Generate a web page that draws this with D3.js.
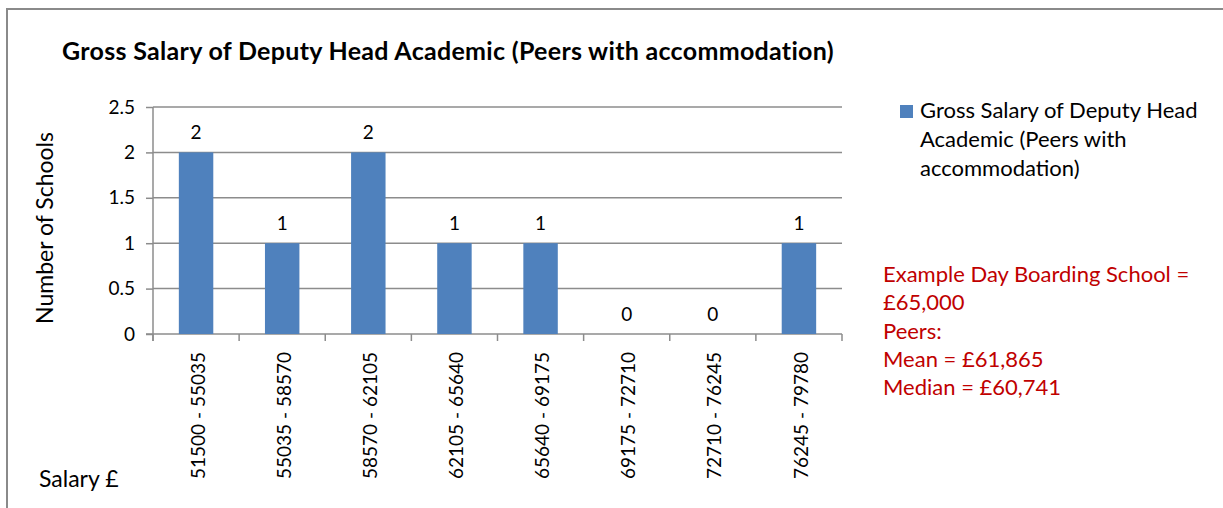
<!DOCTYPE html>
<html>
<head>
<meta charset="utf-8">
<script src="https://cdn.jsdelivr.net/npm/d3@7"></script>
<style>
  body { margin: 0; background: #fff; }
  text { font-family: Lato, "Open Sans", sans-serif; }
</style>
</head>
<body>
<svg id="chart"></svg>
<script>
// Chart data
const categories = ["51500 - 55035", "55035 - 58570", "58570 - 62105", "62105 - 65640",
                    "65640 - 69175", "69175 - 72710", "72710 - 76245", "76245 - 79780"]
const counts = [2, 1, 2, 1, 1, 0, 0, 1]
const yTicks = [0, 0.5, 1, 1.5, 2, 2.5]
const titleText = "Gross Salary of Deputy Head Academic (Peers with accommodation)"
const legendLines = ["Gross Salary of Deputy Head", "Academic (Peers with", "accommodation)"]
const noteLines = ["Example Day Boarding School =", "£65,000", "Peers:", "Mean = £61,865", "Median = £60,741"]

const widthSvg = 1223
const heightSvg = 508
const plot = {left: 153, right: 842, top: 107, bottom: 334}
const gridColor = "#8c8c8c"
const barColor = "#4f81bd"
const noteColor = "#c00000"

const svg = d3.select("#chart")
    .attr("width", widthSvg)
    .attr("height", heightSvg)

// Outer chart border (runs off the right and bottom edges)
svg.append("rect")
    .attr("x", 7).attr("y", 9)
    .attr("width", 1300).attr("height", 600)
    .attr("fill", "none")
    .attr("stroke", "#8a8a8a")
    .attr("stroke-width", 2)

// Title
svg.append("text")
    .attr("x", 448).attr("y", 60)
    .attr("text-anchor", "middle")
    .attr("font-size", "25px")
    .attr("font-weight", "bold")
    .attr("letter-spacing", "0.3px")
    .text(titleText)

//**** SCALES ****/
const xScale = d3.scaleBand()
    .domain(categories)
    .range([plot.left, plot.right])

const yScale = d3.scaleLinear()
    .domain([0, 2.5])
    .range([plot.bottom, plot.top])

// Horizontal gridlines
svg.append("g")
    .selectAll("line")
    .data(yTicks.filter(d => d > 0))
    .enter()
    .append("line")
    .attr("x1", plot.left).attr("x2", plot.right)
    .attr("y1", d => yScale(d)).attr("y2", d => yScale(d))
    .attr("stroke", gridColor)
    .attr("stroke-width", 1.5)

// Y axis
const yAxis = d3.axisLeft(yScale)
    .tickValues(yTicks)
    .tickFormat(d => d)
    .tickSize(7)
    .tickPadding(11)

const gy = svg.append("g")
    .attr("transform", "translate(" + plot.left + ",0)")
    .call(yAxis)
gy.select(".domain").remove()
gy.selectAll("line").attr("stroke", gridColor).attr("stroke-width", 1.5)
gy.selectAll("text").attr("font-size", "19px").attr("fill", "#000")
    .style("font-family", "Lato, sans-serif")
gy.append("line")
    .attr("x1", 0).attr("x2", 0)
    .attr("y1", plot.top).attr("y2", plot.bottom + 7)
    .attr("stroke", gridColor).attr("stroke-width", 1.5)

// X axis: tick marks at category boundaries
const gx = svg.append("g")
gx.append("line")
    .attr("x1", plot.left - 7).attr("x2", plot.right)
    .attr("y1", plot.bottom).attr("y2", plot.bottom)
    .attr("stroke", gridColor).attr("stroke-width", 1.5)
gx.selectAll(".tickmark")
    .data(categories.concat(["end"]))
    .enter()
    .append("line")
    .attr("x1", (d, i) => plot.left + i * xScale.step())
    .attr("x2", (d, i) => plot.left + i * xScale.step())
    .attr("y1", plot.bottom).attr("y2", plot.bottom + 7)
    .attr("stroke", gridColor).attr("stroke-width", 1.5)

// Rotated category labels
gx.selectAll(".catlabel")
    .data(categories)
    .enter()
    .append("text")
    .attr("transform", d => "translate(" + (xScale(d) + xScale.bandwidth() / 2 + 2) + "," + (plot.bottom + 18) + ") rotate(-90)")
    .attr("text-anchor", "end")
    .attr("dy", "0.35em")
    .attr("font-size", "19px")
    .text(d => d)

//**** BARS ****/
const barWidth = xScale.bandwidth() * 0.4
const data = categories.map((c, i) => ({cat: c, value: counts[i]}))

svg.selectAll(".bar")
    .data(data)
    .enter()
    .append("rect")
    .attr("x", d => xScale(d.cat) + (xScale.bandwidth() - barWidth) / 2)
    .attr("y", d => yScale(d.value))
    .attr("width", barWidth)
    .attr("height", d => yScale(0) - yScale(d.value))
    .attr("fill", barColor)

// Data labels
svg.selectAll(".datalabel")
    .data(data)
    .enter()
    .append("text")
    .attr("x", d => xScale(d.cat) + xScale.bandwidth() / 2)
    .attr("y", d => yScale(d.value) - 13)
    .attr("text-anchor", "middle")
    .attr("font-size", "19px")
    .text(d => d.value)

// Axis titles
svg.append("text")
    .attr("transform", "translate(53,228) rotate(-90)")
    .attr("text-anchor", "middle")
    .attr("font-size", "23px")
    .text("Number of Schools")

svg.append("text")
    .attr("x", 39).attr("y", 487)
    .attr("font-size", "23px")
    .text("Salary £")

//**** LEGEND ****/
svg.append("rect")
    .attr("x", 900).attr("y", 105)
    .attr("width", 13).attr("height", 13)
    .attr("fill", barColor)

svg.append("g")
    .selectAll("text")
    .data(legendLines)
    .enter()
    .append("text")
    .attr("x", 920)
    .attr("y", (d, i) => 118 + i * 29)
    .attr("font-size", "22px")
    .text(d => d)

// Red annotation
svg.append("g")
    .selectAll("text")
    .data(noteLines)
    .enter()
    .append("text")
    .attr("x", 883)
    .attr("y", (d, i) => 282 + i * 28.3)
    .attr("font-size", "22px")
    .attr("fill", noteColor)
    .text(d => d)
</script>
</body>
</html>
